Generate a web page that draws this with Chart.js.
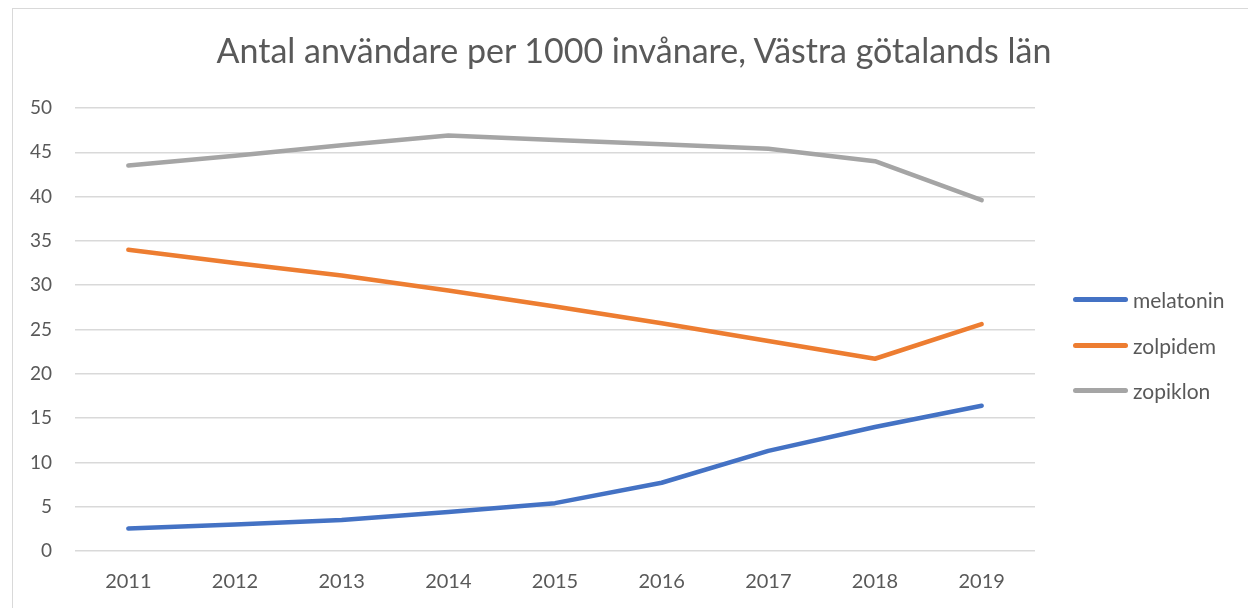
<!DOCTYPE html>
<html>
<head>
<meta charset="utf-8">
<script src="https://cdn.jsdelivr.net/npm/chart.js@4/dist/chart.umd.min.js"></script>
<style>
  html, body { margin: 0; padding: 0; background: #fff; }
  #wrap { position: relative; width: 1248px; height: 608px; overflow: hidden; }
  #frame { position: absolute; left: 12px; top: 8px; width: 1240px; height: 610px; border: 1px solid #d9d9d9; pointer-events: none; }
  #title { position: absolute; left: 0; width: 1268px; top: 29px; text-align: center; font-family: Lato, sans-serif; font-size: 34px; color: #595959; }
  #legend { position: absolute; left: 1073px; top: 277px; font-family: Lato, sans-serif; font-size: 21px; color: #595959; }
  .item { display: flex; align-items: center; height: 45.5px; }
  .swatch { width: 55px; height: 5px; border-radius: 3px; margin-right: 5px; }
</style>
</head>
<body>
<div id="wrap">
  <canvas id="chart" width="1248" height="608"></canvas>
  <div id="frame"></div>
  <div id="title">Antal användare per 1000 invånare, Västra götalands län</div>
  <div id="legend"></div>
</div>
<script>
const years = ['2011', '2012', '2013', '2014', '2015', '2016', '2017', '2018', '2019'];
const melatonin = [2.55, 3.0, 3.5, 4.4, 5.4, 7.7, 11.3, 14.0, 16.4];
const zolpidem = [34.0, 32.5, 31.1, 29.4, 27.6, 25.7, 23.7, 21.7, 25.6];
const zopiklon = [43.5, 44.6, 45.8, 46.9, 46.4, 45.9, 45.4, 44.0, 39.6];
const seriesNames = ['melatonin', 'zolpidem', 'zopiklon'];
const seriesColors = ['#4472C4', '#ED7D31', '#A5A5A5'];

const textColor = '#595959';
const fontFamily = 'Lato, sans-serif';

const ctx = document.getElementById('chart').getContext('2d');
new Chart(ctx, {
    type: 'line',
    data: {
        labels: years,
        datasets: [melatonin, zolpidem, zopiklon].map((vals, i) => ({
            label: seriesNames[i],
            data: vals,
            borderColor: seriesColors[i],
            backgroundColor: seriesColors[i],
            borderWidth: 4.5,
            borderCapStyle: 'round',
            borderJoinStyle: 'round',
            pointRadius: 0,
            tension: 0
        }))
    },
    options: {
        responsive: false,
        animation: false,
        layout: {
            padding: { top: 108, right: 213, bottom: 0, left: 0 }
        },
        plugins: {
            legend: { display: false },
            tooltip: { enabled: false }
        },
        scales: {
            x: {
                offset: true,
                grid: { display: false, drawTicks: false },
                border: { display: false },
                ticks: {
                    color: textColor,
                    font: { family: fontFamily, size: 20 },
                    padding: 19,
                    maxRotation: 0
                },
                afterFit: (scale) => { scale.height = 57; }
            },
            y: {
                min: 0,
                max: 50,
                grid: { color: '#d9d9d9', lineWidth: 1.5, drawTicks: false },
                border: { display: false },
                ticks: {
                    stepSize: 5,
                    color: textColor,
                    font: { family: fontFamily, size: 19 },
                    padding: 23
                },
                afterFit: (scale) => { scale.width = 75; }
            }
        }
    }
});

// legend
const legend = document.getElementById('legend');
seriesNames.forEach((name, i) => {
    const row = document.createElement('div');
    row.className = 'item';
    row.innerHTML = '<span class="swatch" style="background:' + seriesColors[i] + '"></span>' + name;
    legend.appendChild(row);
});
</script>
</body>
</html>
